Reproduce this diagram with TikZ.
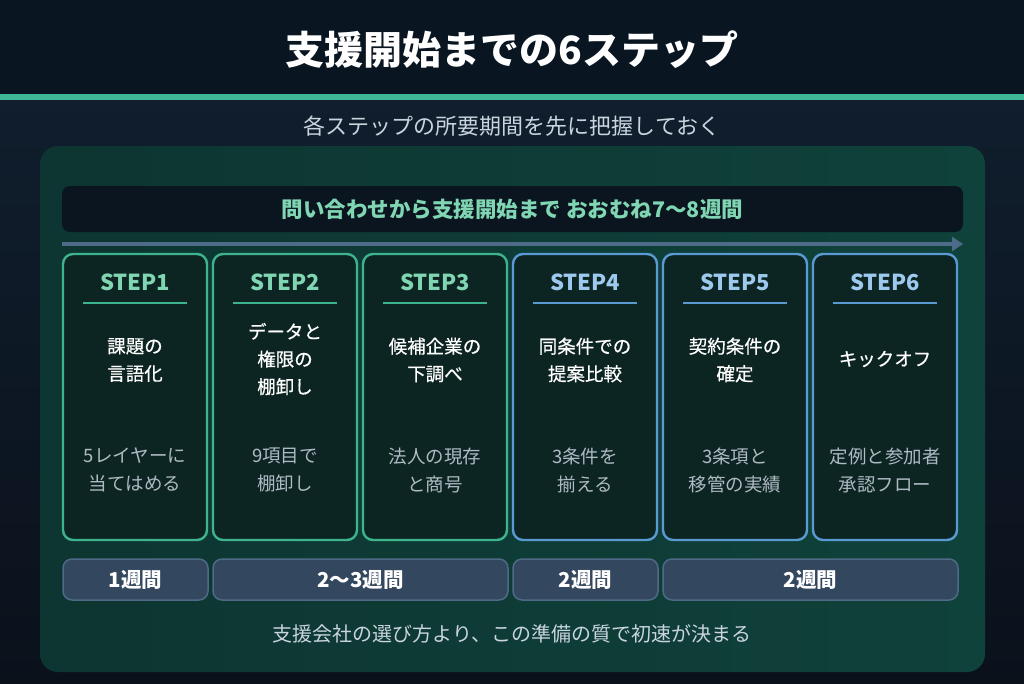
\documentclass[tikz,border=0pt]{standalone}
\usepackage{fontspec}
\newfontfamily\jp{Noto Sans CJK JP}
\newfontfamily\jpmed[FakeBold=0.5]{Noto Sans CJK JP}
\usetikzlibrary{arrows.meta,positioning,calc}
\definecolor{bandbg}{HTML}{0A1522}
\definecolor{pagetop}{HTML}{112030}
\definecolor{pagebot}{HTML}{0A111B}
\definecolor{accent}{HTML}{3FB896}
\definecolor{panelleft}{HTML}{0D3531}
\definecolor{panelright}{HTML}{0F423A}
\definecolor{headbg}{HTML}{0A1520}
\definecolor{cardbg}{HTML}{0D2522}
\definecolor{greenline}{HTML}{3DB48E}
\definecolor{blueline}{HTML}{5A9AD2}
\definecolor{greentxt}{HTML}{80D6B2}
\definecolor{bluetxt}{HTML}{9DC9EF}
\definecolor{subtxt}{HTML}{AEBAC4}
\definecolor{timeline}{HTML}{4E6C8A}
\definecolor{durbg}{HTML}{33475E}
\definecolor{durline}{HTML}{4E6A86}
\definecolor{softtxt}{HTML}{C9D4DE}

\begin{document}
\begin{tikzpicture}[
  x=1pt, y=-1pt,
  gcard/.style={rectangle, draw=greenline, fill=cardbg, rounded corners=10pt,
                line width=2.4pt, minimum width=144pt, minimum height=286pt},
  bcard/.style={gcard, draw=blueline},
  glabel/.style={font={\jp\bfseries\fontsize{22}{26}\selectfont}, text=greentxt},
  blabel/.style={glabel, text=bluetxt},
  gline/.style={greenline, line width=1.5pt},
  bline/.style={blueline, line width=1.5pt},
  task/.style={font={\jpmed\fontsize{18.5}{27.5}\selectfont}, text=white, align=center},
  note/.style={font={\jp\fontsize{18.5}{28}\selectfont}, text=subtxt, align=center},
  dur/.style={rectangle, draw=durline, fill=durbg, rounded corners=9pt,
              line width=1.5pt, minimum height=41pt,
              font={\jp\bfseries\fontsize{20.5}{24}\selectfont}, text=white}
]
  % page and title band
  \useasboundingbox (0,0) rectangle (1024,683);
  \shade[top color=pagetop, bottom color=pagebot] (0,0) rectangle (1024,683);
  \fill[bandbg] (0,0) rectangle (1024,94);
  \fill[accent] (0,94) rectangle (1024,100);
  \node[font={\jp\bfseries\fontsize{39}{44}\selectfont}, text=white] (title) at (512,50)
    {支援開始までの6ステップ};
  \node[font={\jp\fontsize{22}{26}\selectfont}, text=softtxt] (subtitle) at (512,126)
    {各ステップの所要期間を先に把握しておく};

  % panel
  \shade[left color=panelleft, right color=panelright, rounded corners=18pt]
    (40,146) rectangle (985,672);
  \node[rectangle, fill=headbg, rounded corners=8pt, minimum width=901pt,
        minimum height=46pt, font={\jp\bfseries\fontsize{21.5}{25}\selectfont},
        text=greentxt] (head) at (512.5,209)
    {問い合わせから支援開始まで おおむね7〜8週間};

  % timeline
  \coordinate (tl start) at (62,244);
  \coordinate (tl end) at (963,244);
  \draw[timeline, line width=4pt, -{Triangle[length=11pt, width=14pt]}] (tl start) -- (tl end);

  % cards
  \node[gcard] (c1) at (135,397) {};
  \node[gcard] (c2) at (285,397) {};
  \node[gcard] (c3) at (435,397) {};
  \node[bcard] (c4) at (585,397) {};
  \node[bcard] (c5) at (735,397) {};
  \node[bcard] (c6) at (885,397) {};

  \node[glabel] (s1) at (135,282) {STEP1};
  \node[glabel] (s2) at (285,282) {STEP2};
  \node[glabel] (s3) at (435,282) {STEP3};
  \node[blabel] (s4) at (585,282) {STEP4};
  \node[blabel] (s5) at (735,282) {STEP5};
  \node[blabel] (s6) at (885,282) {STEP6};

  \draw[gline] ($(c1.north)+(-52,50)$) -- ++(104,0);
  \draw[gline] ($(c2.north)+(-52,50)$) -- ++(104,0);
  \draw[gline] ($(c3.north)+(-52,50)$) -- ++(104,0);
  \draw[bline] ($(c4.north)+(-52,50)$) -- ++(104,0);
  \draw[bline] ($(c5.north)+(-52,50)$) -- ++(104,0);
  \draw[bline] ($(c6.north)+(-52,50)$) -- ++(104,0);

  \node[task] (t1) at (135,360) {課題の\\言語化};
  \node[task] (t2) at (285,359) {データと\\権限の\\棚卸し};
  \node[task] (t3) at (435,360) {候補企業の\\下調べ};
  \node[task] (t4) at (585,360) {同条件での\\提案比較};
  \node[task] (t5) at (735,360) {契約条件の\\確定};
  \node[task] (t6) at (885,359) {キックオフ};

  \node[note] (n1) at (135,470) {5レイヤーに\\当てはめる};
  \node[note] (n2) at (285,470) {9項目で\\棚卸し};
  \node[note] (n3) at (435,470) {法人の現存\\と商号};
  \node[note] (n4) at (585,470) {3条件を\\揃える};
  \node[note] (n5) at (735,470) {3条項と\\移管の実績};
  \node[note] (n6) at (885,470) {定例と参加者\\承認フロー};

  % durations
  \node[dur, minimum width=145pt] (d1) at (135.5,579.5) {1週間};
  \node[dur, minimum width=295pt] (d2) at (360.5,579.5) {2〜3週間};
  \node[dur, minimum width=145pt] (d3) at (585.5,579.5) {2週間};
  \node[dur, minimum width=295pt] (d4) at (810.5,579.5) {2週間};

  \node[font={\jp\fontsize{20}{24}\selectfont}, text=softtxt] (foot) at (512,634)
    {支援会社の選び方より、この準備の質で初速が決まる};
\end{tikzpicture}
\end{document}
